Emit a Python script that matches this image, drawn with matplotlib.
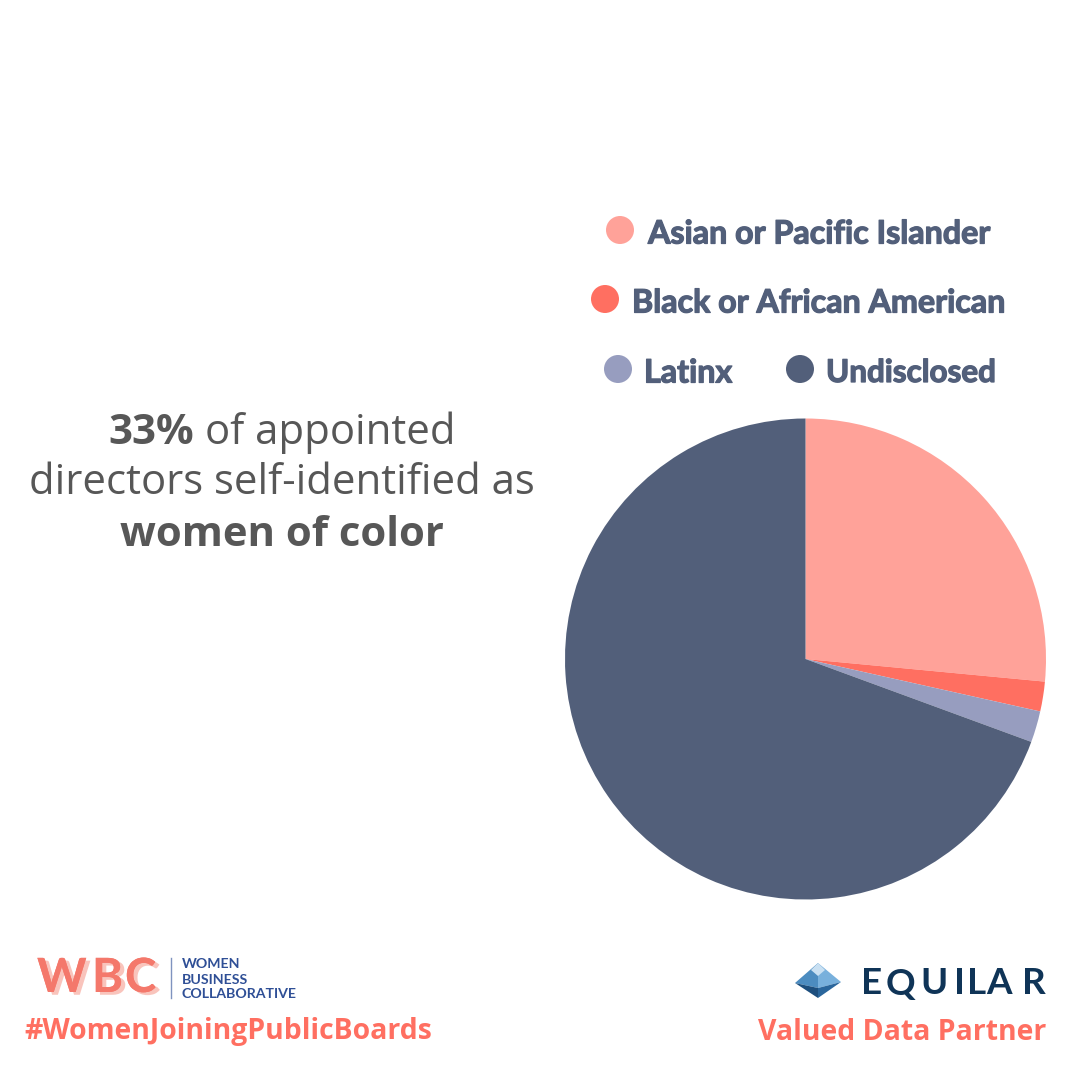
import matplotlib
matplotlib.use("Agg")
import matplotlib.pyplot as plt
import matplotlib.patheffects as pe
from matplotlib.patches import Circle, Polygon

categories = ['Asian or Pacific Islander', 'Black or African American', 'Latinx', 'Undisclosed']
shares = [26.5, 2.0, 2.1, 69.4]
colors = ['#FFA299', '#FF6F61', '#979DBF', '#525F7A']

W = 1080
fig = plt.figure(figsize=(10.8, 10.8), dpi=100, facecolor='white')

# overlay in pixel coordinates for text and logos
bg = fig.add_axes([0, 0, 1, 1])
bg.set_xlim(0, W)
bg.set_ylim(W, 0)
bg.axis('off')

# pie
R = 240.5
cx, cy = 805.5, 659
ax = fig.add_axes([(cx - R) / W, 1 - (cy + R) / W, 2 * R / W, 2 * R / W])
ax.pie(shares, colors=colors, startangle=90, counterclock=False, radius=1)
ax.set_xlim(-1, 1)
ax.set_ylim(-1, 1)

# legend
legend_pos = [(620, 230, 648), (605, 299, 632), (618, 369, 644), (800, 369, 826)]
legend_size = [23.2, 23.2, 23.2, 22.6]
for (dot_x, y, text_x), name, col, size in zip(legend_pos, categories, colors, legend_size):
    bg.add_patch(Circle((dot_x, y), 14, color=col, lw=0))
    t = bg.text(text_x, y + 4, name, fontsize=size, fontweight='bold', family='Lato',
                color='#525F7A', va='center', ha='left')
    t.set_path_effects([pe.withStroke(linewidth=0.9, foreground='#525F7A')])

# headline
grey = '#575757'
bg.text(108, 433, '33%', fontsize=30.2, fontweight='bold', family='Open Sans', color=grey, va='center')
bg.text(205, 433, 'of appointed', fontsize=30.2, family='Open Sans', color=grey, va='center')
bg.text(282, 483, 'directors self-identified as', fontsize=30.2, family='Open Sans', color=grey, va='center', ha='center')
bg.text(282, 535, 'women of color', fontsize=30.2, fontweight='bold', family='Open Sans', color=grey, va='center', ha='center')

# WBC logo
coral = '#F4786B'
navy = '#2F4F96'
shadow = [pe.withSimplePatchShadow(offset=(3, -2), shadow_rgbFace='#F9C4BC', alpha=1.0), pe.Normal()]
for letter, x in zip('WBC', [37, 92, 125]):
    t = bg.text(x, 978, letter, fontsize=34, fontweight='bold', family='Lato', color=coral, va='center')
    t.set_path_effects(shadow)
bg.plot([171, 171], [958, 998], color='#7F93BF', lw=1)
for y, line in zip([964, 980, 994.5], ['WOMEN', 'BUSINESS', 'COLLABORATIVE']):
    bg.text(182, y, line, fontsize=10.2, fontweight='bold', family='Lato', color=navy, va='center')

bg.text(24, 1031, '#WomenJoiningPublicBoards', fontsize=20.4, fontweight='bold', family='Open Sans',
        color='#FF6F61', va='center')

# Equilar logo
bg.add_patch(Polygon([(795, 983), (818, 963), (818, 988)], color='#4C8CC0', lw=0))
bg.add_patch(Polygon([(841, 982), (818, 963), (818, 988)], color='#78B0DC', lw=0))
bg.add_patch(Polygon([(811, 970), (818, 963), (825, 970), (818, 976)], color='#C9E0F2', lw=0))
bg.add_patch(Polygon([(795, 983), (818, 988), (818, 998)], color='#1D4F7E', lw=0))
bg.add_patch(Polygon([(841, 982), (818, 988), (818, 998)], color='#2A669C', lw=0))
for letter, x in zip('EQUILAR', [861, 886, 920, 954, 967, 986, 1022]):
    bg.text(x, 984, letter, fontsize=26.5, fontweight='bold', family='Lato', color='#0F3457', va='center')

bg.text(1046, 1032, 'Valued Data Partner', fontsize=20.4, fontweight='bold', family='Open Sans',
        color='#FF6F61', va='center', ha='right')

fig.savefig('out.png', dpi=100, facecolor='white')
